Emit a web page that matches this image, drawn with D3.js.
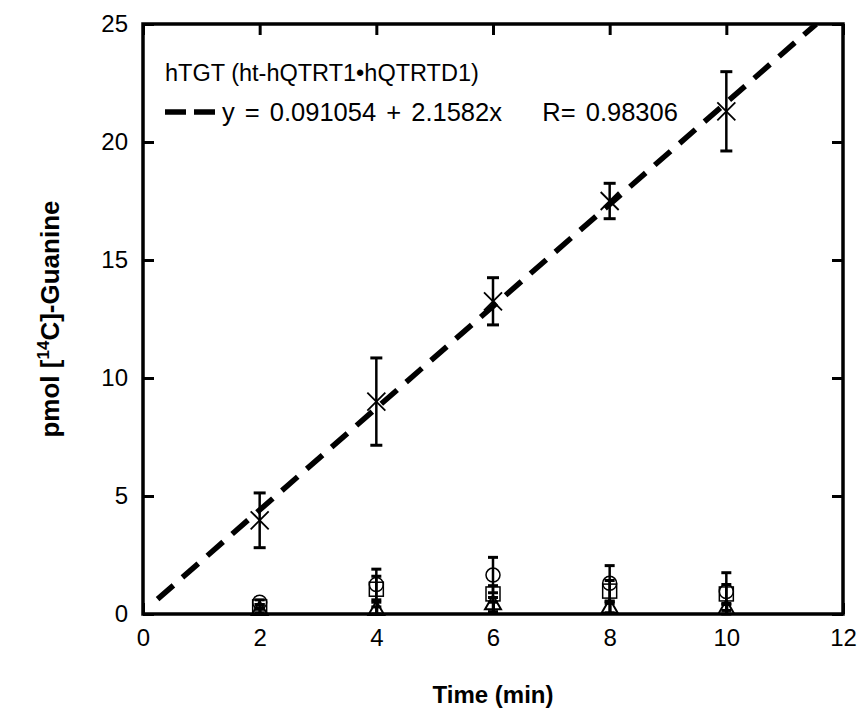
<!DOCTYPE html>
<html>
<head>
<meta charset="utf-8">
<script src="https://cdn.jsdelivr.net/npm/d3@7"></script>
<style>
  body { margin: 0; background: #fff; }
  text { font-family: "Liberation Sans", Arial, Helvetica, sans-serif; }
</style>
</head>
<body>
<div id="chart"></div>
<script>
// data
var times = [2, 4, 6, 8, 10];

// hTGT (crosses)
var hTGT = [3.97, 9.0, 13.25, 17.5, 21.3];
var hTGTErr = [1.16, 1.85, 1.0, 0.75, 1.68];

// controls near zero
var circles = [0.5, 1.25, 1.65, 1.3, 0.95];
var circlesErr = [0.1, 0.65, 0.75, 0.75, 0.8];
var squares = [0.3, 1.05, 0.85, 0.97, 0.85];
var squaresErr = [0.1, 0.55, 0.35, 0.45, 0.4];
var triangles = [0.15, 0.15, 0.4, 0.25, 0.2];
var trianglesErr = [0.1, 0.15, 0.3, 0.2, 0.2];

// linear fit from the legend
var fitIntercept = 0.091054;
var fitSlope = 2.1582;
var fitRange = [0.25, 11.54];

var xTicks = [0, 2, 4, 6, 8, 10, 12];
var yTicks = [0, 5, 10, 15, 20, 25];

var svgWidth = 864;
var svgHeight = 717;

var margin = { top: 24, right: 21, bottom: 103, left: 143 };
var chartWidth = svgWidth - margin.left - margin.right;
var chartHeight = svgHeight - margin.top - margin.bottom;

var svg = d3.select("#chart")
  .append("svg")
  .attr("width", svgWidth)
  .attr("height", svgHeight);

var chartGroup = svg.append("g")
  .attr("transform", `translate(${margin.left}, ${margin.top})`);

var xScale = d3.scaleLinear().domain([0, 12]).range([0, chartWidth]);
var yScale = d3.scaleLinear().domain([0, 25]).range([chartHeight, 0]);

// axes, ticks pointing inward
function styleAxis(g) {
  g.select(".domain").remove();
  g.selectAll(".tick line").attr("stroke", "#000").attr("stroke-width", 3);
  g.selectAll(".tick text")
    .attr("fill", "#000")
    .style("font-size", "24px")
    .style("font-family", "'Liberation Sans', Arial, sans-serif");
}

chartGroup.append("g")
  .attr("transform", `translate(0,${chartHeight})`)
  .call(d3.axisBottom(xScale).tickValues(xTicks).tickSizeInner(-11).tickSizeOuter(0).tickPadding(15))
  .call(styleAxis);

chartGroup.append("g")
  .call(d3.axisTop(xScale).tickValues(xTicks).tickSizeInner(-11).tickSizeOuter(0).tickFormat(""))
  .call(styleAxis);

chartGroup.append("g")
  .call(d3.axisLeft(yScale).tickValues(yTicks).tickSizeInner(-11).tickSizeOuter(0).tickPadding(15))
  .call(styleAxis);

chartGroup.append("g")
  .attr("transform", `translate(${chartWidth},0)`)
  .call(d3.axisRight(yScale).tickValues(yTicks).tickSizeInner(-11).tickSizeOuter(0).tickFormat(""))
  .call(styleAxis);

// clip for the fit line
chartGroup.append("clipPath")
  .attr("id", "plotClip")
  .append("rect")
  .attr("width", chartWidth)
  .attr("height", chartHeight);

// fit line
var fitLine = d3.line()
  .x(function(d) { return xScale(d); })
  .y(function(d) { return yScale(fitIntercept + fitSlope * d); });

chartGroup.append("path")
  .datum(fitRange)
  .attr("clip-path", "url(#plotClip)")
  .attr("d", fitLine)
  .attr("fill", "none")
  .attr("stroke", "#000")
  .attr("stroke-width", 5.5)
  .attr("stroke-dasharray", "21,12");

// error bars
function errorBars(values, errs, cap) {
  var g = chartGroup.append("g");
  times.forEach(function(t, i) {
    var x = xScale(t);
    var y0 = yScale(values[i] - errs[i]);
    var y1 = yScale(values[i] + errs[i]);
    g.append("line")
      .attr("x1", x).attr("x2", x).attr("y1", y0).attr("y2", y1)
      .attr("stroke", "#000").attr("stroke-width", 2.5);
    [y0, y1].forEach(function(yy) {
      g.append("line")
        .attr("x1", x - cap).attr("x2", x + cap).attr("y1", yy).attr("y2", yy)
        .attr("stroke", "#000").attr("stroke-width", 3);
    });
  });
}

errorBars(triangles, trianglesErr, 5);
errorBars(squares, squaresErr, 5);
errorBars(circles, circlesErr, 5);
errorBars(hTGT, hTGTErr, 6);

// markers
chartGroup.selectAll(".tri")
  .data(times)
  .enter()
  .append("path")
  .attr("class", "tri")
  .attr("transform", function(d, i) { return `translate(${xScale(d)},${yScale(triangles[i])})`; })
  .attr("d", d3.symbol().type(d3.symbolTriangle).size(110))
  .attr("fill", "none")
  .attr("stroke", "#000")
  .attr("stroke-width", 2);

chartGroup.selectAll(".sq")
  .data(times)
  .enter()
  .append("rect")
  .attr("class", "sq")
  .attr("x", function(d) { return xScale(d) - 7; })
  .attr("y", function(d, i) { return yScale(squares[i]) - 7; })
  .attr("width", 14)
  .attr("height", 14)
  .attr("fill", "none")
  .attr("stroke", "#000")
  .attr("stroke-width", 1.5);

chartGroup.selectAll(".circ")
  .data(times)
  .enter()
  .append("circle")
  .attr("class", "circ")
  .attr("cx", function(d) { return xScale(d); })
  .attr("cy", function(d, i) { return yScale(circles[i]); })
  .attr("r", 7)
  .attr("fill", "none")
  .attr("stroke", "#000")
  .attr("stroke-width", 1.5);

var crossSize = 9;
chartGroup.selectAll(".cross")
  .data(times)
  .enter()
  .append("path")
  .attr("class", "cross")
  .attr("transform", function(d, i) { return `translate(${xScale(d)},${yScale(hTGT[i])})`; })
  .attr("d", `M${-crossSize},${-crossSize}L${crossSize},${crossSize}M${-crossSize},${crossSize}L${crossSize},${-crossSize}`)
  .attr("fill", "none")
  .attr("stroke", "#000")
  .attr("stroke-width", 1.8);

// frame
chartGroup.append("rect")
  .attr("width", chartWidth)
  .attr("height", chartHeight)
  .attr("fill", "none")
  .attr("stroke", "#000")
  .attr("stroke-width", 3.5);

// legend
svg.append("text")
  .attr("x", 165)
  .attr("y", 81)
  .style("font-size", "23.5px")
  .text("hTGT (ht-hQTRT1\u2022hQTRTD1)");

svg.append("line")
  .attr("x1", 165).attr("x2", 215)
  .attr("y1", 112).attr("y2", 112)
  .attr("stroke", "#000")
  .attr("stroke-width", 5.5)
  .attr("stroke-dasharray", "21,8");

svg.append("text")
  .attr("x", 222)
  .attr("y", 121)
  .style("font-size", "25.5px")
  .style("white-space", "pre")
  .style("word-spacing", "3px")
  .text("y = 0.091054 + 2.1582x    R= 0.98306");

// axis titles
svg.append("text")
  .attr("x", margin.left + chartWidth / 2)
  .attr("y", 703)
  .attr("text-anchor", "middle")
  .style("font-size", "24px")
  .style("font-weight", "bold")
  .text("Time (min)");

var yTitle = svg.append("text")
  .attr("transform", `translate(59, ${margin.top + chartHeight / 2}) rotate(-90)`)
  .attr("text-anchor", "middle")
  .style("font-size", "26px")
  .style("font-weight", "bold");
yTitle.append("tspan").text("pmol [");
yTitle.append("tspan").attr("dy", -10).style("font-size", "17px").text("14");
yTitle.append("tspan").attr("dy", 10).text("C]-Guanine");
</script>
</body>
</html>
